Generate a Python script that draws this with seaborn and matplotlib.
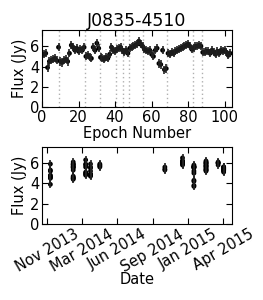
import numpy as np
import pandas as pd
import matplotlib
matplotlib.use("Agg")
import matplotlib.pyplot as plt
import matplotlib.dates as mdates
import seaborn as sns

# Flux per epoch, grouped by observing session
SESSION_FLUX = [
    [5.2, 5.3, 3.9, 4.5, 4.6, 4.7, 4.8, 4.6, 5.9],
    [4.5, 4.4, 4.6, 4.7, 4.5, 5.3, 6.1, 5.9, 5.6, 5.8, 5.5, 5.7, 5.6, 5.9],
    [5.0, 5.1, 4.9, 4.8, 5.9, 5.6, 6.3, 5.8],
    [4.9, 4.8, 4.7, 4.9, 4.8, 5.2, 5.9, 5.6, 5.5],
    [5.7, 5.8, 5.9, 5.6],
    [5.4, 5.6, 5.3],
    [5.8, 5.9, 6.0, 6.1, 6.2, 6.5, 6.2, 6.0],
    [5.7, 5.6, 5.5, 5.6, 5.2, 5.0, 5.6, 5.8, 4.3, 4.2, 5.6, 3.7, 3.8],
    [5.3, 5.2, 5.4, 5.3, 5.5, 5.6, 5.7, 5.8, 5.9, 6.0, 6.1, 6.2, 6.0, 5.7],
    [5.8, 6.0, 6.0, 6.1, 6.0],
    [5.4, 5.4, 5.5, 5.5, 5.3, 5.6, 5.4, 5.2, 5.5, 5.3, 5.6, 5.5, 5.6, 5.4, 5.1, 5.3],
]
SESSION_DATES = ["2013-12-08", "2014-02-12", "2014-03-20", "2014-04-03",
                 "2014-04-30", "2014-11-04", "2014-12-25", "2015-01-27",
                 "2015-03-03", "2015-04-07", "2015-04-23"]
FLUX_ERR = 0.4
DATE_TICKS = ["2013-11-28", "2014-03-10", "2014-06-20", "2014-09-30",
              "2015-01-10", "2015-04-22"]

rows = []
epoch = 1
for flux_list, date in zip(SESSION_FLUX, SESSION_DATES):
    for f in flux_list:
        rows.append({"epoch": epoch, "flux": f, "date": pd.Timestamp(date)})
        epoch += 1
df = pd.DataFrame(rows)
bounds = np.cumsum([len(s) for s in SESSION_FLUX])[:-1] + 0.5

sns.set_style("ticks")
plt.rcParams["font.family"] = ["DejaVu Sans"]
plt.rcParams["font.size"] = 10.5
for key in ["text.color", "axes.labelcolor", "xtick.color", "ytick.color",
            "axes.edgecolor"]:
    plt.rcParams[key] = "black"
plt.rcParams["xtick.direction"] = "in"
plt.rcParams["ytick.direction"] = "in"
plt.rcParams["xtick.top"] = True
plt.rcParams["ytick.right"] = True

fig = plt.figure(figsize=(2.63, 3.0), dpi=100)
ax1 = fig.add_axes([0.160, 0.643, 0.722, 0.257])
ax2 = fig.add_axes([0.160, 0.253, 0.722, 0.258])

# top: flux vs epoch
for b in bounds:
    ax1.axvline(b, color="#b0b0b0", ls=(0, (1, 2)), lw=1, zorder=0)
ax1.errorbar(df["epoch"], df["flux"], yerr=FLUX_ERR, fmt="none",
             ecolor="#222222", elinewidth=1.2, capsize=0)
sns.scatterplot(data=df, x="epoch", y="flux", ax=ax1, color="black",
                s=12, edgecolor="none", legend=False)
ax1.set_xlim(0, 104)
ax1.set_ylim(0, 7.6)
ax1.set_xticks([0, 20, 40, 60, 80, 100])
ax1.set_yticks([0, 2, 4, 6])
ax1.set_xlabel("Epoch Number", labelpad=1)
ax1.set_ylabel("Flux (Jy)", labelpad=2)
ax1.set_title("J0835-4510", fontsize=12.5, pad=3)

# bottom: flux vs date
ax2.errorbar(df["date"], df["flux"], yerr=FLUX_ERR, fmt="none",
             ecolor="#222222", elinewidth=1.2, capsize=0)
sns.scatterplot(data=df, x="date", y="flux", ax=ax2, color="black",
                s=12, edgecolor="none", legend=False)
ticks = pd.to_datetime(DATE_TICKS)
ax2.set_xticks(ticks)
ax2.xaxis.set_major_formatter(mdates.DateFormatter("%b %Y"))
ax2.set_xlim(pd.Timestamp("2013-11-14"), pd.Timestamp("2015-05-17"))
ax2.set_ylim(0, 7.6)
ax2.set_yticks([0, 2, 4, 6])
plt.setp(ax2.get_xticklabels(), rotation=30, ha="center")
ax2.set_xlabel("Date", labelpad=-2)
ax2.set_ylabel("Flux (Jy)", labelpad=2)

for ax in (ax1, ax2):
    ax.tick_params(length=4, width=0.8, pad=2)
    for sp in ax.spines.values():
        sp.set_linewidth(0.8)

fig.savefig("out.png", dpi=100)
